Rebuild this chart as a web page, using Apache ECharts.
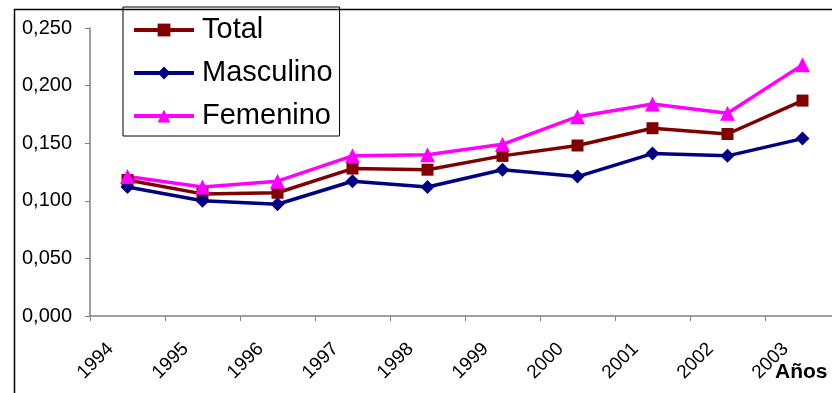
<!DOCTYPE html>
<html>
<head>
<meta charset="utf-8">
<script src="https://cdn.jsdelivr.net/npm/echarts@6/dist/echarts.min.js"></script>
<style>html,body{margin:0;padding:0;background:#fff;overflow:hidden;}#c{width:846px;height:393px;}</style>
</head>
<body>
<div id="c"></div>
<script>
const years = ['1994','1995','1996','1997','1998','1999','2000','2001','2002','2003'];
const total = [0.118, 0.106, 0.107, 0.128, 0.127, 0.139, 0.148, 0.163, 0.158, 0.187];
const masculino = [0.112, 0.100, 0.097, 0.117, 0.112, 0.127, 0.121, 0.141, 0.139, 0.154];
const femenino = [0.121, 0.112, 0.117, 0.139, 0.140, 0.149, 0.173, 0.184, 0.176, 0.218];
const yTicks = [0, 0.05, 0.10, 0.15, 0.20, 0.25];
const axisTitle = 'Años';

const chart = echarts.init(document.getElementById('c'));
const font = 'Liberation Sans, Arial, sans-serif';
function mk(name, data, color, symbol, size) {
  return { name, type: 'line', data, color, symbol, symbolSize: size,
    lineStyle: { width: 3.5, color }, itemStyle: { color }, animation: false };
}
chart.setOption({
  animation: false,
  textStyle: { fontFamily: font },
  grid: { left: 90, top: 28, right: 6, bottom: 77 },
  legend: {
    orient: 'vertical', left: 123, top: 7,
    itemWidth: 60, itemHeight: 16, itemGap: 13,
    padding: [8, 7, 5, 9],
    borderColor: '#000', borderWidth: 1,
    lineStyle: { width: 4 },
    textStyle: { fontSize: 29, color: '#000', fontFamily: font, lineHeight: 30, padding: [0, 0, 0, 3] },
    data: ['Total', 'Masculino', 'Femenino']
  },
  xAxis: {
    type: 'category', data: years, boundaryGap: true,
    axisLine: { lineStyle: { color: '#808080', width: 1.5 } },
    axisTick: { show: true, length: 5, interval: 0, lineStyle: { color: '#808080' } },
    axisLabel: { rotate: 45, margin: 13, fontSize: 19, color: '#000', fontFamily: font, interval: 0,
      padding: [0, 24, 0, 0] },
    splitLine: { show: false }
  },
  yAxis: {
    type: 'value', min: yTicks[0], max: yTicks[yTicks.length - 1], interval: 0.05,
    axisLine: { show: true, lineStyle: { color: '#808080', width: 1.5 } },
    axisTick: { show: true, length: 5, lineStyle: { color: '#808080' } },
    axisLabel: { margin: 18, fontSize: 20, color: '#000', fontFamily: font,
      formatter: v => v.toFixed(3).replace('.', ',') },
    splitLine: { show: false }
  },
  graphic: [
    { type: 'rect', left: 12, top: 7, shape: { width: 900, height: 500 },
      style: { fill: 'none', stroke: '#000', lineWidth: 1.5 }, silent: true, z: -1 },
    { type: 'text', left: 775, top: 362,
      style: { text: axisTitle, font: 'bold 21px ' + font, fill: '#000' } }
  ],
  series: [
    mk('Total', total, '#800000', 'rect', 12),
    mk('Masculino', masculino, '#000080', 'diamond', 14),
    mk('Femenino', femenino, '#FF00FF', 'triangle', 15)
  ]
});
</script>
</body>
</html>
